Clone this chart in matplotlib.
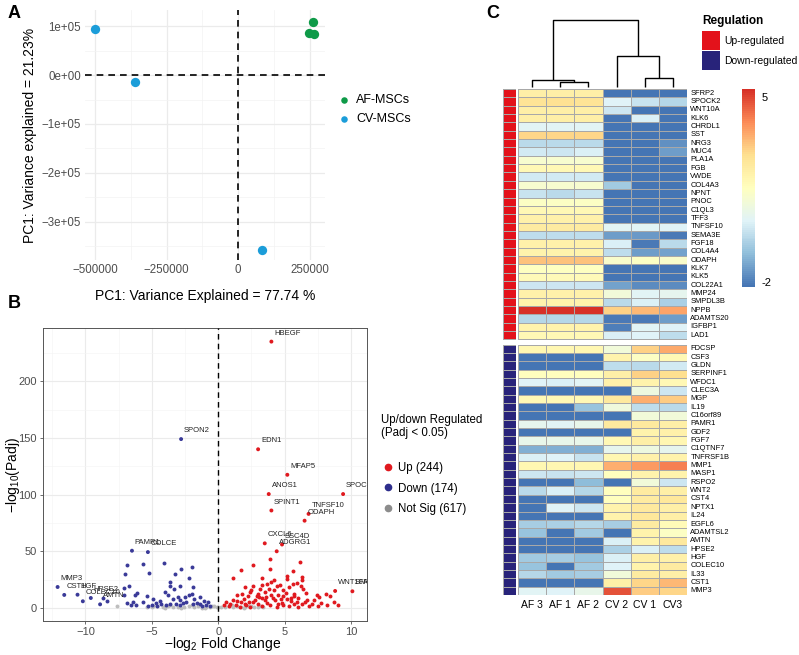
import numpy as np
import matplotlib
matplotlib.use("Agg")
from matplotlib import pyplot as plt
from matplotlib.colors import LinearSegmentedColormap
from matplotlib.lines import Line2D
from matplotlib.patches import Rectangle

plt.rcParams['font.family'] = ['Liberation Sans', 'DejaVu Sans']

# ---------------- Panel A data (PCA) ----------------
pca_groups = ['AF-MSCs', 'CV-MSCs']
pca_colors = ['#0E9A48', '#1B9DD9']
af_pc1 = [262000, 248000, 267000]
af_pc2 = [108000, 87000, 84000]
cv_pc1 = [-500000, -360000, 84000]
cv_pc2 = [94000, -15000, -358000]

# ---------------- Panel B data (volcano) ----------------
lab_genes = ['HBEGF', 'EDN1', 'MFAP5', 'ANOS1', 'SPOCK2', 'SPINT1', 'TNFSF10', 'ODAPH',
             'CXCL6', 'SSC4D', 'ADGRG1', 'WNT10A', 'SFRP2',
             'SPON2', 'PAMR1', 'COLCE', 'MMP3', 'CST1', 'HGF', 'COLEC10', 'HPSE2', 'AMTN']
lab_x = [4.0, 3.0, 5.2, 3.8, 9.4, 4.0, 6.8, 6.5, 3.5, 4.8, 4.4, 8.8, 10.1,
         -2.8, -6.5, -5.3, -12.1, -11.6, -10.6, -10.2, -9.6, -8.9]
lab_y = [235, 140, 117.5, 100.5, 100.5, 86, 83, 77, 57, 56, 50, 15, 14.7,
         149, 50.5, 49.3, 18.5, 11.5, 11.7, 5.9, 8.8, 3.2]
lab_up = [True] * 13 + [False] * 9

up_x = [1.08, 1.69, 2.64, 3.9, 6.17, 3.27, 3.9, 5.6, 5.2, 6.3, 6.3, 6.2, 6.35, 3.65, 4.4, 2.64,
        2.0, 1.76, 2.4, 3.0, 4.2, 4.9, 5.1, 4.5, 5.7, 5.5, 6.7, 8.1, 7.6, 8.4, 7.2, 1.1, 0.6,
        0.9, 1.4, 1.9, 2.3, 2.8, 3.1, 3.5, 4.0, 4.3, 4.8, 5.2, 5.9, 6.3, 5.7, 7.05, 7.7, 8.7,
        0.4, 1.3, 2.1, 3.0, 3.9, 4.9, 2.6, 3.5, 4.65, 5.3, 4.0, 3.15, 5.2, 5.9, 5.7, 4.15,
        2.27, 1.4, 0.8, 1.6, 2.4, 3.3, 4.4, 5.3, 6.0, 6.8, 7.5, 8.2, 9.0, 3.7, 4.5, 2.0, 1.7,
        3.3, 4.7, 5.5, 6.5, 2.9, 3.6, 4.9, 6.0, 3.3, 4.2, 5.6, 6.6, 7.4, 3.8, 2.5]
up_y = [26.4, 33.2, 38.2, 43.5, 40.5, 26.4, 34.7, 32.3, 27.9, 27.3, 24.4, 19.1, 17, 20.9, 19.1,
        19.1, 18.5, 12.6, 14.1, 12.6, 16.2, 15.6, 13.2, 11.2, 12.6, 9.1, 7.3, 12.0, 9.7, 10.3,
        6.8, 7.3, 5.3, 3.8, 6.2, 8.2, 5.3, 7.3, 9.7, 6.8, 11.2, 6.8, 4.4, 8.2, 5.3, 3.8, 3.2,
        3.2, 4.4, 5.3, 2.3, 2.3, 2.3, 3.2, 2.3, 2.3, 5.3, 14.1, 20.0, 18.5, 22.9, 17, 25.8, 22,
        10.3, 9.1, 10.3, 11.2, 1.5, 1.2, 1.0, 1.4, 1.1, 1.6, 1.2, 2.0, 1.5, 2.2, 3.0, 4.5, 3.5,
        3.8, 5.0, 8.5, 7.5, 6.0, 5.0, 10.8, 10.0, 10.8, 9.0, 20.0, 25.0, 21.5, 13.5, 11.5, 16.5,
        16.0]

down_x = [-4.1, -5.7, -6.85, -2.77, -2.0, -3.27, -5.2, -7.0, -2.2, -3.6, -3.65, -7.1, -6.7,
          -2.9, -1.9, -6.1, -5.4, -4.9, -4.0, -3.8, -3.4, -2.9, -2.2, -2.0, -1.4, -1.1, -0.75,
          -2.4, -1.6, -6.4, -6.2, -5.7, -4.7, -4.3, -3.65, -3.15, -2.65, -1.9, -1.4, -6.55,
          -5.0, -3.9, -2.9, -0.9, -7.1, -6.3, -8.7, -8.4, -3.3, -2.5, -4.4, -1.8, -3.0, -5.3,
          -0.6, -1.2, -4.6, -6.9]
down_y = [40, 39, 38.2, 34.7, 36.1, 29.7, 31.1, 30.2, 26.7, 22.9, 19.1, 17.9, 19.4, 19.1, 18.5,
          13.2, 10.3, 8.2, 14.1, 11.2, 8.2, 6.8, 11.2, 12.6, 9.7, 6.2, 5.3, 5.3, 4.4, 5.3, 2.3,
          5.3, 4.4, 3.2, 3.8, 3.2, 4.4, 3.2, 3.2, 2.3, 2.3, 2.3, 2.3, 2.3, 11.2, 11.2, 9.0, 5.9,
          16.5, 9.5, 6.0, 7.5, 10.0, 2.0, 1.5, 1.8, 1.5, 4.0]

ns_x = [-5.4, -5.0, -4.6, -4.2, -3.8, -3.4, -3.0, -2.6, -2.2, -1.8, -1.5, -1.2, -0.9, -0.6,
        -0.3, -0.1, 0.2, 0.5, 0.8, 1.1, 1.4, 1.7, 2.0, 2.3, 2.7, 3.0, 3.4, -4.9, -3.6, -2.0,
        -0.5, 1.0, 2.5, -7.6, -1.0, 0.0, 1.9, -2.8, -4.0, 3.2]
ns_y = [1.0, 0.6, 1.3, 0.8, 1.6, 0.5, 1.2, 0.9, 1.8, 0.7, 1.4, 0.4, 1.1, 0.8, 1.6, 0.5, 1.2,
        0.6, 1.9, 0.9, 1.3, 0.5, 1.0, 1.6, 0.7, 1.1, 0.6, 1.8, 2.2, 2.4, 2.1, 2.4, 2.0, 1.5,
        0.3, 0.9, 0.3, 0.3, 0.3, 1.8]
volcano_labels = ['Up (244)', 'Down (174)', 'Not Sig (617)']
volcano_colors = ['#E0191F', '#2E2E8C', '#8C8C8C']

# ---------------- Panel C data (heatmap) ----------------
samples = ['AF 3', 'AF 1', 'AF 2', 'CV 2', 'CV 1', 'CV3']
# linkage: (left, right, height); ids >= 6 are earlier merges
col_links = [(1, 2, 0.08), (0, 6, 0.106), (4, 5, 0.14), (3, 8, 0.47), (7, 9, 1.0)]

up_genes = ['SFRP2', 'SPOCK2', 'WNT10A', 'KLK6', 'CHRDL1', 'SST', 'NRG3', 'MUC4', 'PLA1A',
            'FGB', 'VWDE', 'COL4A3', 'NPNT', 'PNOC', 'C1QL3', 'TFF3', 'TNFSF10', 'SEMA3E',
            'FGF18', 'COL4A4', 'ODAPH', 'KLK7', 'KLK5', 'COL22A1', 'MMP24', 'SMPDL3B', 'NPPB',
            'ADAMTS20', 'IGFBP1', 'LAD1']
up_vals = [
    [2.2, 2.2, 2.2, -2.2, -2.2, -2.2],
    [2.6, 2.7, 2.6, 0.3, -0.1, -0.4],
    [2.2, 2.2, 2.2, 0.0, -2.2, -2.2],
    [2.2, 2.2, 2.2, -2.2, 0.2, -2.2],
    [0.4, 0.4, 0.4, -2.2, -2.2, -2.2],
    [2.9, 2.9, 2.9, -2.2, -2.2, -2.2],
    [-0.3, -0.3, -0.3, -2.2, -2.2, -1.7],
    [0.1, 0.0, 0.2, -2.2, -2.2, -1.5],
    [1.2, 1.2, 1.2, -2.2, -2.2, -2.2],
    [1.8, 1.8, 1.8, -2.2, -2.2, -2.2],
    [0.1, 0.1, 0.1, -2.2, -2.2, -2.2],
    [1.2, 1.2, 1.2, -0.7, -2.2, -2.2],
    [-0.1, -0.3, -0.1, -2.2, -2.2, -2.2],
    [1.4, 1.4, 1.4, -2.2, -2.2, -2.2],
    [1.8, 1.8, 1.8, -2.2, -2.2, -2.2],
    [2.1, 2.1, 2.1, -2.2, -2.2, -2.2],
    [2.3, 2.3, 2.3, 0.4, 0.4, 0.3],
    [-0.2, -0.2, -0.2, -1.5, -1.6, -2.1],
    [2.1, 2.1, 2.1, 0.2, -2.1, -0.3],
    [2.0, 2.0, 2.0, -0.2, -1.5, -1.4],
    [3.2, 3.2, 3.2, 1.3, 1.4, 1.3],
    [1.5, 1.5, 1.5, -2.2, -2.2, -2.2],
    [1.7, 1.7, 1.7, -2.2, -2.2, -2.2],
    [0.0, 0.0, 0.0, -1.4, -1.8, -1.8],
    [2.1, 2.1, 2.1, 1.0, 0.4, 0.5],
    [2.0, 2.0, 2.0, -0.3, 0.2, -0.5],
    [5.3, 5.3, 5.3, 3.0, 3.4, 3.7],
    [-0.4, -0.4, -0.4, -2.1, -2.1, -1.5],
    [2.0, 2.0, 2.0, -2.0, 0.4, 0.3],
    [1.8, 1.8, 1.8, 0.2, 0.3, -0.2],
]
down_genes = ['FDCSP', 'CSF3', 'GLDN', 'SERPINF1', 'WFDC1', 'CLEC3A', 'MGP', 'IL19', 'C16orf89',
              'PAMR1', 'GDF2', 'FGF7', 'C1QTNF7', 'TNFRSF1B', 'MMP1', 'MASP1', 'RSPO2', 'WNT2',
              'CST4', 'NPTX1', 'IL24', 'EGFL6', 'ADAMTSL2', 'AMTN', 'HPSE2', 'HGF', 'COLEC10',
              'IL33', 'CST1', 'MMP3']
down_vals = [
    [1.9, 1.9, 1.9, 1.0, 3.0, 3.6],
    [-2.2, -2.2, -2.2, 2.0, 1.4, 1.8],
    [-2.2, -2.2, -2.2, -0.2, -0.3, 0.1],
    [1.6, 1.6, 1.6, 2.2, 3.0, 2.8],
    [0.3, 0.2, 0.4, 2.1, 2.0, 1.8],
    [-2.2, -2.2, -2.2, -2.2, 0.8, 0.0],
    [1.8, 1.8, 1.8, 2.4, 3.5, 3.1],
    [-2.2, -2.2, -0.8, 0.9, -0.2, -0.3],
    [-2.2, -2.2, -2.2, -2.2, 1.0, 1.0],
    [0.5, 0.4, 0.6, 2.4, 2.4, 2.2],
    [-2.2, -2.2, -2.2, -2.2, 2.0, 2.1],
    [0.6, 0.6, 0.6, 1.8, 2.2, 1.9],
    [-1.2, -1.2, -1.2, 0.5, 0.8, 0.5],
    [0.2, 0.3, -0.1, 1.9, 2.1, 2.0],
    [1.9, 1.9, 1.9, 3.5, 3.8, 4.2],
    [0.0, -0.1, 0.0, 1.6, 2.0, 2.0],
    [-2.2, -2.2, -1.0, -2.2, 1.0, 0.0],
    [-0.3, 0.2, -0.4, 1.6, 2.3, 2.2],
    [-2.2, -2.2, -2.2, 1.6, 2.3, 2.5],
    [-2.2, 0.3, 0.0, 2.0, 2.4, 2.2],
    [-2.2, -2.2, -2.2, 2.0, 2.5, 2.2],
    [-0.6, -0.5, -0.4, -0.6, 2.3, 1.7],
    [-0.8, -2.2, -0.7, -2.2, 2.0, 1.4],
    [-2.2, -2.2, -2.2, 0.2, 2.0, 2.4],
    [-2.2, -2.2, -2.2, -0.5, 0.2, -0.2],
    [-0.7, -0.6, -0.8, 0.2, 2.2, 2.1],
    [-0.8, -2.2, -0.7, 0.3, 2.0, 2.3],
    [-0.4, -0.7, -0.6, 1.0, 2.3, 2.2],
    [-2.2, -2.2, -2.2, 2.2, 2.9, 3.4],
    [0.4, 0.3, 0.6, 4.8, 3.1, 2.9],
]
reg_labels = ['Up-regulated', 'Down-regulated']
reg_colors = ['#E3121B', '#28237A']
heat_colors = ['#4575B4', '#91BFDB', '#E0F3F8', '#FFFFBF', '#FEE090', '#FC8D59', '#D73027']
vmin, vmax = -2.2, 5.3

W, H = 799, 655
fig = plt.figure(figsize=(W / 100, H / 100), dpi=100)


def px_axes(l, t, r, b):
    return fig.add_axes([l / W, 1 - b / H, (r - l) / W, (b - t) / H])


# ======================= Panel A =======================
axA = px_axes(85, 10, 325, 260)
axA.scatter(af_pc1, af_pc2, s=45, color=pca_colors[0], label=pca_groups[0], zorder=3, lw=0)
axA.scatter(cv_pc1, cv_pc2, s=45, color=pca_colors[1], label=pca_groups[1], zorder=3, lw=0)
axA.axhline(0, color='black', ls=(0, (4, 3)), lw=1.2, zorder=2)
axA.axvline(0, color='black', ls=(0, (4, 3)), lw=1.2, zorder=2)
axA.set_xlim(-535000, 304000)
axA.set_ylim(-378000, 133000)
axA.set_xticks([-500000, -250000, 0, 250000])
axA.set_xticklabels(['\u2212500000', '\u2212250000', '0', '250000'])
axA.set_xticks([-375000, -125000, 125000], minor=True)
axA.set_yticks([100000, 0, -100000, -200000, -300000])
axA.set_yticklabels(['1e+05', '0e+00', '\u22121e+05', '\u22122e+05', '\u22123e+05'])
axA.set_yticks([50000, -50000, -150000, -250000, -350000], minor=True)
axA.grid(which='major', color='#EBEBEB', lw=0.9)
axA.grid(which='minor', color='#F3F3F3', lw=0.5)
axA.set_axisbelow(True)
for sp in axA.spines.values():
    sp.set_visible(False)
axA.tick_params(which='both', length=0, labelsize=8.3, labelcolor='#4D4D4D', pad=3)
axA.set_xlabel('PC1: Variance Explained = 77.74 %', fontsize=10, labelpad=9)
axA.set_ylabel('PC1: Variance explained = 21.23%', fontsize=10, labelpad=3)
axA.legend(loc='upper left', bbox_to_anchor=(326 / W, 1 - 89 / H), bbox_transform=fig.transFigure,
           frameon=False, fontsize=9, handletextpad=0.0, labelspacing=0.6, borderaxespad=0,
           markerscale=0.7)

# ======================= Panel B =======================
axB = px_axes(43, 328, 367, 621)
axB.scatter(ns_x, ns_y, s=8, color='#BDBDBD', lw=0, zorder=2)
axB.scatter(up_x, up_y, s=8, color=volcano_colors[0], lw=0, zorder=3)
axB.scatter(down_x, down_y, s=8, color='#3A3A98', lw=0, zorder=3)
lab_cols = [volcano_colors[0] if u else '#3A3A98' for u in lab_up]
axB.scatter(lab_x, lab_y, s=8, c=lab_cols, lw=0, zorder=3)
for g, x, y in zip(lab_genes, lab_x, lab_y):
    axB.annotate(g, (x, y), xytext=(2, 3.5), textcoords='offset points', fontsize=5.5,
                 color='#222222', ha='left', va='bottom', clip_on=True, annotation_clip=True)
axB.axvline(0, color='black', ls=(0, (4, 3)), lw=1.0, zorder=4)
axB.set_xlim(-13.2, 11.2)
axB.set_ylim(-11.5, 247)
axB.set_xticks([-10, -5, 0, 5, 10])
axB.set_xticklabels(['\u221210', '\u22125', '0', '5', '10'])
axB.set_xticks([-12.5, -7.5, -2.5, 2.5, 7.5], minor=True)
axB.set_yticks([0, 50, 100, 150, 200])
axB.set_yticks([25, 75, 125, 175, 225], minor=True)
axB.grid(which='major', color='#EBEBEB', lw=0.8)
axB.grid(which='minor', color='#F4F4F4', lw=0.4)
axB.set_axisbelow(True)
for sp in axB.spines.values():
    sp.set_color('#555555')
    sp.set_linewidth(0.7)
axB.tick_params(which='major', length=2.5, width=0.6, color='#555555', labelsize=8,
                labelcolor='#4D4D4D', pad=2)
axB.tick_params(which='minor', length=0)
axB.set_xlabel(r'$\mathregular{-log_{2}}$ Fold Change', fontsize=10)
axB.set_ylabel(r'$\mathregular{-log_{10}(Padj)}$', fontsize=10)
axB.xaxis.set_label_coords((223 - 43) / (367 - 43), -(644 - 621) / (621 - 328))
axB.yaxis.set_label_coords(-(43 - 13) / (367 - 43), (621 - 475) / (621 - 328))
axB.xaxis.label.set_va('center')
axB.yaxis.label.set_va('center')
handles = [Line2D([], [], ls='', marker='o', ms=4.5, color=c) for c in volcano_colors]
legB = axB.legend(handles, volcano_labels, title='Up/down Regulated\n(Padj < 0.05)\n',
                  loc='upper left', bbox_to_anchor=(376 / W, 1 - 409 / H),
                  bbox_transform=fig.transFigure, frameon=False, fontsize=8.3,
                  title_fontsize=8.3, labelspacing=0.75, handletextpad=0.3,
                  handlelength=1.2, borderaxespad=0)
legB._legend_box.align = 'left'

# ======================= Panel C =======================
up_arr = np.array(up_vals)
down_arr = np.array(down_vals)
n_up, n_down = len(up_genes), len(down_genes)
gap = 0.6
cmap = LinearSegmentedColormap.from_list('rdylbu_r', heat_colors, N=100)

axH = px_axes(518, 89, 687, 595)
x_edges = np.arange(len(samples) + 1)
y_up = np.arange(n_up + 1)
y_down = np.arange(n_down + 1) + n_up + gap
mesh = axH.pcolormesh(x_edges, y_up, up_arr, cmap=cmap, vmin=vmin, vmax=vmax,
                      edgecolors='#A8A8A8', linewidth=0.5)
axH.pcolormesh(x_edges, y_down, down_arr, cmap=cmap, vmin=vmin, vmax=vmax,
               edgecolors='#A8A8A8', linewidth=0.5)
axH.set_xlim(0, len(samples))
axH.set_ylim(n_up + n_down + gap, 0)
axH.axis('off')
for i, g in enumerate(up_genes):
    axH.text(len(samples) + 0.12, i + 0.5, g, fontsize=5.4, va='center', ha='left')
for i, g in enumerate(down_genes):
    axH.text(len(samples) + 0.12, n_up + gap + i + 0.5, g, fontsize=5.4, va='center', ha='left')
for j, s in enumerate(samples):
    axH.text(j + 0.5, n_up + n_down + gap + 1.2, s, fontsize=7.5, ha='center', va='center')

# annotation column
axR = px_axes(503, 89, 516, 595)
reg_up = np.zeros((n_up, 1))
reg_down = np.ones((n_down, 1))
reg_cmap = LinearSegmentedColormap.from_list('reg', reg_colors, N=2)
axR.pcolormesh([0, 1], y_up, reg_up, cmap=reg_cmap, vmin=0, vmax=1,
               edgecolors='#A8A8A8', linewidth=0.5)
axR.pcolormesh([0, 1], y_down, reg_down, cmap=reg_cmap, vmin=0, vmax=1,
               edgecolors='#A8A8A8', linewidth=0.5)
axR.set_xlim(0, 1)
axR.set_ylim(n_up + n_down + gap, 0)
axR.axis('off')

# column dendrogram
axD = px_axes(518, 20, 687, 87)
node_x = {i: i + 0.5 for i in range(len(samples))}
node_h = {i: 0.0 for i in range(len(samples))}
for k, (a, b, h) in enumerate(col_links):
    nid = len(samples) + k
    xa, xb = node_x[a], node_x[b]
    axD.plot([xa, xa, xb, xb], [node_h[a], h, h, node_h[b]], color='black', lw=1.0,
             clip_on=False, solid_capstyle='butt')
    node_x[nid] = (xa + xb) / 2
    node_h[nid] = h
axD.set_xlim(0, len(samples))
axD.set_ylim(0, 1.0)
axD.axis('off')

# colour bar
cax = px_axes(742, 89, 755, 287)
cb = fig.colorbar(mesh, cax=cax, ticks=[-2, 5])
cb.outline.set_visible(False)
cb.ax.tick_params(length=0, labelsize=8, pad=5)
cb.ax.set_yticklabels(['-2', '5'])

# regulation legend
axL = px_axes(700, 10, 799, 75)
axL.set_xlim(700, 799)
axL.set_ylim(75, 10)
axL.axis('off')
axL.text(702, 21, 'Regulation', fontsize=8.5, fontweight='bold', va='center', ha='left')
for k, (lab, col) in enumerate(zip(reg_labels, reg_colors)):
    axL.add_patch(Rectangle((702, 31 + 20 * k), 18, 19, color=col, lw=0))
    axL.text(724, 40.5 + 20 * k, lab, fontsize=7.5, va='center', ha='left')

# panel letters
fig.text(8 / W, 1 - 13 / H, 'A', fontsize=13, fontweight='bold', va='center', ha='left')
fig.text(8 / W, 1 - 303 / H, 'B', fontsize=13, fontweight='bold', va='center', ha='left')
fig.text(486 / W, 1 - 13 / H, 'C', fontsize=13, fontweight='bold', va='center', ha='left')

fig.savefig('out.png', dpi=100)
